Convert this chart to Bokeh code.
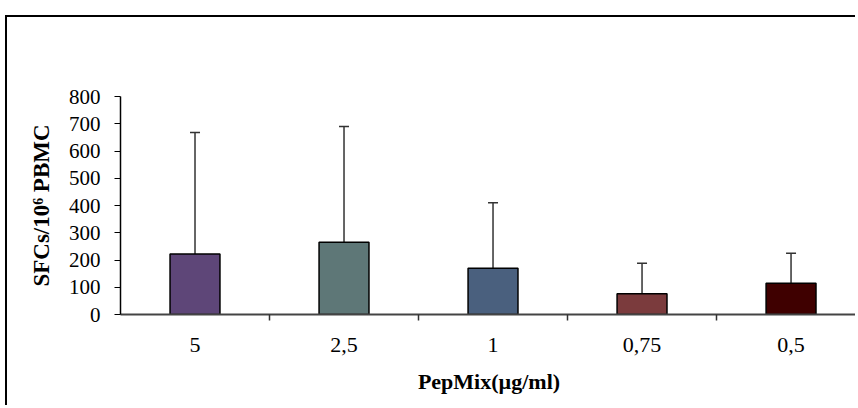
from bokeh.plotting import figure
from bokeh.models import Range1d, FixedTicker, ColumnDataSource, Whisker, TeeHead
from bokeh.embed import file_html
from bokeh.resources import INLINE

categories = ["5", "2,5", "1", "0,75", "0,5"]
means = [222, 265, 170, 76, 115]
upper = [668, 690, 410, 188, 225]
colors = ["#5E4678", "#5E7777", "#4A607E", "#7B3B3D", "#3F0000"]
y_ticks = [0, 100, 200, 300, 400, 500, 600, 700, 800]

xs = [i + 0.5 for i in range(len(categories))]
src = ColumnDataSource(dict(x=xs, top=means, upper=upper, color=colors))

p = figure(width=850, height=390, output_backend="svg", toolbar_location=None,
           x_range=Range1d(0, 4.946), y_range=Range1d(0, 800),
           min_border_left=113, min_border_top=79, min_border_bottom=93, min_border_right=0,
           styles={"border-left": "2px solid black", "border-top": "2px solid black",
                   "margin-left": "5px", "margin-top": "15px"})
p.outline_line_color = None
p.grid.visible = False

p.segment(x0="x", y0="top", x1="x", y1="upper", source=src, line_color="#333333", line_width=1.5)
p.add_layout(Whisker(source=src, base="x", upper="upper", lower="upper",
                     upper_head=TeeHead(size=10, line_color="#333333", line_width=1.5),
                     lower_head=None, line_alpha=0))

p.vbar(x="x", top="top", width=0.335, bottom=0, source=src, fill_color="color",
       line_color="black", line_width=1.5)

font = "Liberation Serif"
p.xaxis.ticker = FixedTicker(ticks=xs, minor_ticks=[1, 2, 3, 4])
p.xaxis.major_label_overrides = {x: c for x, c in zip(xs, categories)}
p.xaxis.major_tick_line_color = None
p.xaxis.major_tick_in = 0
p.xaxis.major_tick_out = 6
p.xaxis.minor_tick_in = 0
p.xaxis.minor_tick_out = 6
p.xaxis.minor_tick_line_color = "#333333"
p.xaxis.minor_tick_line_width = 1.5
p.xaxis.axis_line_color = "#444444"
p.xaxis.axis_line_width = 2
p.xaxis.major_label_text_font = font
p.xaxis.major_label_text_font_size = "22px"
p.xaxis.major_label_text_color = "black"
p.xaxis.major_label_standoff = 17
p.xaxis.axis_label = "PepMix(µg/ml)"
p.xaxis.axis_label_text_font = font
p.xaxis.axis_label_text_font_style = "bold"
p.xaxis.axis_label_text_font_size = "22px"
p.xaxis.axis_label_text_color = "black"
p.xaxis.axis_label_standoff = 14

p.yaxis.ticker = FixedTicker(ticks=y_ticks)
p.yaxis.minor_tick_line_color = None
p.yaxis.major_tick_in = 0
p.yaxis.major_tick_out = 6
p.yaxis.major_tick_line_color = "black"
p.yaxis.axis_line_color = "black"
p.yaxis.axis_line_width = 1.5
p.yaxis.major_label_text_font = font
p.yaxis.major_label_text_font_size = "21px"
p.yaxis.major_label_text_color = "black"
p.yaxis.major_label_standoff = 14
p.yaxis.axis_label = "SFCs/10⁶ PBMC"
p.yaxis.axis_label_text_font = font
p.yaxis.axis_label_text_font_style = "bold"
p.yaxis.axis_label_text_font_size = "23px"
p.yaxis.axis_label_text_color = "black"
p.yaxis.axis_label_standoff = 12

open("out.html", "w").write(file_html(p, INLINE))
